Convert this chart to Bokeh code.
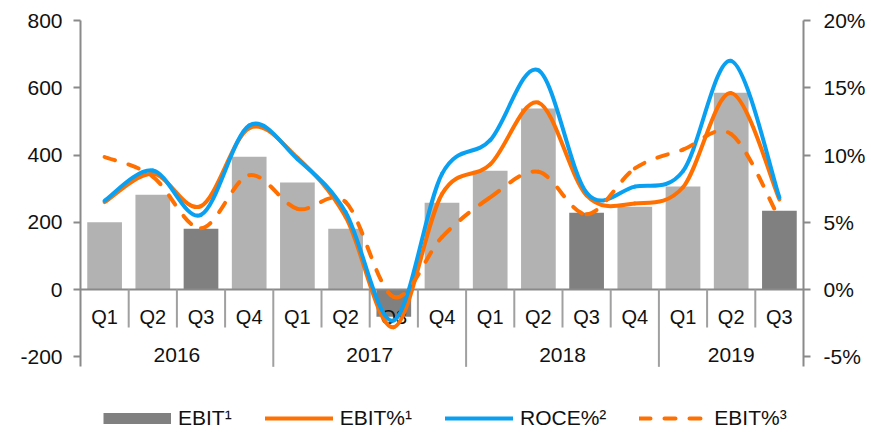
import numpy as np
from bokeh.plotting import figure
from bokeh.models import (Range1d, LinearAxis, FixedTicker, Legend, LegendItem,
                          PrintfTickFormatter, ColumnDataSource)
from bokeh.embed import file_html
from bokeh.resources import INLINE
from bokeh.core.properties import value

# ---------------- data ----------------
quarters = ["Q1", "Q2", "Q3", "Q4", "Q1", "Q2", "Q3", "Q4",
            "Q1", "Q2", "Q3", "Q4", "Q1", "Q2", "Q3"]
years = ["2016", "2017", "2018", "2019"]
year_of = ["2016"] * 4 + ["2017"] * 4 + ["2018"] * 4 + ["2019"] * 3

ebit = [200, 282, 181, 395, 318, 181, -81, 258, 353, 538, 228, 246, 306, 585, 234]
ebit_pct1 = [6.5, 8.6, 6.2, 12.0, 9.8, 5.4, -2.8, 7.1, 9.3, 13.9, 7.0, 6.4, 7.6, 14.6, 6.7]
roce_pct2 = [6.6, 8.85, 5.55, 12.2, 9.7, 5.75, -2.3, 8.6, 11.1, 16.3, 7.2, 7.65, 8.8, 17.0, 6.85]
ebit_pct3 = [9.85, 8.4, 4.55, 8.5, 6.0, 6.5, -0.55, 3.9, 6.85, 8.75, 5.6, 9.0, 10.4, 11.55, 5.25]

left_ticks = [-200, 0, 200, 400, 600, 800]
right_ticks = [-5, 0, 5, 10, 15, 20]

# ---------------- styles ----------------
FONT = "Liberation Sans"
TXT = "#111111"
AXC = "#8a8a8a"
ORANGE = "#FF7000"
BLUE = "#0AA0F2"
BAR_LIGHT = "#B2B2B2"
BAR_DARK = "#808080"

n = len(quarters)
idx = list(range(n))

# value range; the frame extends below the axes to hold the legend
Y_TOP, Y_AXIS_LO, Y_FRAME_LO = 800, -230, -419.3
PCT_PER_UNIT = 1 / 40.0

p = figure(width=868, height=430, x_range=Range1d(-0.5, n - 0.5),
           y_range=Range1d(Y_FRAME_LO, Y_TOP), output_backend="svg",
           toolbar_location=None, x_axis_type=None, y_axis_type=None,
           min_border_left=80, min_border_right=64, min_border_top=20,
           min_border_bottom=0)
p.outline_line_color = None
p.background_fill_color = None
p.border_fill_color = "white"
p.extra_y_ranges = {"pct": Range1d(Y_FRAME_LO * PCT_PER_UNIT, Y_TOP * PCT_PER_UNIT)}

def style_axis(ax, standoff):
    ax.axis_line_color = AXC
    ax.axis_line_width = 2
    ax.major_tick_line_color = AXC
    ax.major_tick_line_width = 2
    ax.major_tick_in = 0
    ax.major_tick_out = 7
    ax.minor_tick_line_color = None
    ax.major_label_text_font = FONT
    ax.major_label_text_font_size = "21px"
    ax.major_label_text_color = TXT
    ax.major_label_standoff = standoff

yl = LinearAxis(ticker=FixedTicker(ticks=left_ticks),
                formatter=PrintfTickFormatter(format="%d"),
                bounds=(Y_AXIS_LO, Y_TOP))
style_axis(yl, 11)
p.add_layout(yl, "left")

yr = LinearAxis(y_range_name="pct", ticker=FixedTicker(ticks=right_ticks),
                formatter=PrintfTickFormatter(format="%d%%"),
                bounds=(Y_AXIS_LO * PCT_PER_UNIT, Y_TOP * PCT_PER_UNIT))
style_axis(yr, 13)
p.add_layout(yr, "right")

# ---------------- bars ----------------
bar_colors = [BAR_DARK if q == "Q3" else BAR_LIGHT for q in quarters]
bars = ColumnDataSource(dict(x=idx, top=ebit, color=bar_colors))
p.vbar(x="x", top="top", bottom=0, width=0.72, source=bars,
       fill_color="color", line_color=None)

# ---------------- category axis (drawn inside the frame below zero) ----------------
p.segment(x0=[-0.5], y0=[0], x1=[n - 0.5], y1=[0], line_color=AXC, line_width=2)
sep_x = [i + 0.5 for i in range(n - 1)]
sep_y = [Y_AXIS_LO if year_of[i] != year_of[i + 1] else -113 for i in range(n - 1)]
p.segment(x0=sep_x, y0=[0] * len(sep_x), x1=sep_x, y1=sep_y,
          line_color="#a0a0a0", line_width=2)

p.text(x=idx, y=[-83] * n, text=quarters, text_font=value(FONT),
       text_font_size="20px", text_align="center", text_baseline="middle",
       text_color=TXT)
year_x = [float(np.mean([i for i in idx if year_of[i] == y])) for y in years]
p.text(x=year_x, y=[-196] * len(years), text=years, text_font=value(FONT),
       text_font_size="21px", text_align="center", text_baseline="middle",
       text_color=TXT)

# ---------------- smooth lines (cubic Bezier through the data points) ----------------
def bezier_source(vals):
    xs = np.array(idx, dtype=float)
    ys = np.array(vals, dtype=float)
    xe = np.concatenate([[xs[0]], xs, [xs[-1]]])
    ye = np.concatenate([[ys[0]], ys, [ys[-1]]])
    d = dict(x0=[], y0=[], x1=[], y1=[], cx0=[], cy0=[], cx1=[], cy1=[])
    for i in range(len(xs) - 1):
        p0x, p0y = xe[i], ye[i]
        p1x, p1y = xe[i + 1], ye[i + 1]
        p2x, p2y = xe[i + 2], ye[i + 2]
        p3x, p3y = xe[i + 3], ye[i + 3]
        d["x0"].append(p1x); d["y0"].append(p1y)
        d["x1"].append(p2x); d["y1"].append(p2y)
        d["cx0"].append(p1x + (p2x - p0x) / 6); d["cy0"].append(p1y + (p2y - p0y) / 6)
        d["cx1"].append(p2x - (p3x - p1x) / 6); d["cy1"].append(p2y - (p3y - p1y) / 6)
    return ColumnDataSource(d)

common = dict(x0="x0", y0="y0", x1="x1", y1="y1", cx0="cx0", cy0="cy0",
              cx1="cx1", cy1="cy1", y_range_name="pct", line_width=4,
              line_cap="round")
p.bezier(source=bezier_source(ebit_pct1), line_color=ORANGE, **common)
p.bezier(source=bezier_source(roce_pct2), line_color=BLUE, **common)
p.bezier(source=bezier_source(ebit_pct3), line_color=ORANGE, line_dash="11 14", **common)

# ---------------- legend (single-point proxy lines: they draw nothing in the plot) ----------------
r_ebit = p.line(x=idx[:1], y=ebit[:1], line_color=BAR_DARK, line_width=11,
                line_cap="butt")
r_e1 = p.line(x=idx[:1], y=ebit_pct1[:1], y_range_name="pct", line_color=ORANGE,
              line_width=4, line_cap="round")
r_roce = p.line(x=idx[:1], y=roce_pct2[:1], y_range_name="pct", line_color=BLUE,
                line_width=4, line_cap="round")
r_e3 = p.line(x=idx[:1], y=ebit_pct3[:1], y_range_name="pct", line_color=ORANGE,
              line_width=4, line_cap="round", line_dash="11 14")

legend = Legend(items=[LegendItem(label="EBIT¹", renderers=[r_ebit]),
                       LegendItem(label="EBIT%¹", renderers=[r_e1]),
                       LegendItem(label="ROCE%²", renderers=[r_roce]),
                       LegendItem(label="EBIT%³", renderers=[r_e3])],
                orientation="horizontal", location=(23, 0),
                glyph_width=68, glyph_height=20, label_height=20,
                label_standoff=7, spacing=33, padding=0, margin=0,
                border_line_color=None, background_fill_alpha=0,
                label_text_font=FONT, label_text_font_size="21px",
                label_text_color=TXT)
p.add_layout(legend, "center")

open("out.html", "w").write(file_html(p, INLINE))
